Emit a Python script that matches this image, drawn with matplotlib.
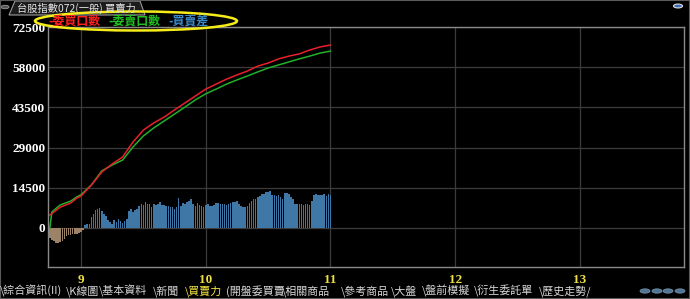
import numpy as np
import matplotlib
matplotlib.use("Agg")
import matplotlib.pyplot as plt
from matplotlib.patches import Ellipse, Polygon, Circle, Rectangle

plt.rcParams['font.family'] = ['Noto Sans CJK TC', 'DejaVu Sans']

# ---- data (minutes after 08:45) ----
bar_min = list(range(136))
bar_diff = [-3600, -4200, -4800, -5300, -5400, -5200, -4600, -3800, -3000, -2700,
            -2500, -2300, -2200, -2000, -1800, -1500, -900, 1200, 1300, 1600,
            3800, 5200, 6400, 7000, 7200, 6000, 5000, 4400, 3000, 2000,
            1600, 2900, 2000, 3200, 2600, 1700, 2600, 3300, 6300, 7000,
            5900, 6400, 6700, 8000, 8500, 8200, 9300, 8600, 8500, 7700,
            8500, 8200, 8800, 9200, 8200, 8400, 8100, 8000, 7700, 7600,
            6800, 7400, 10800, 8100, 9000, 8600, 9400, 9800, 10300, 8700,
            8000, 9000, 8300, 8100, 7600, 8300, 8600, 7800, 8100, 8300,
            8900, 9100, 8500, 8800, 8600, 8200, 8500, 8900, 9400, 9300,
            9700, 8700, 8000, 7400, 7500, 8000, 9000, 9700, 10300, 10600,
            11200, 11600, 12300, 12200, 13100, 12900, 13400, 11800, 12000, 11600,
            11900, 11000, 10600, 12500, 12600, 12200, 11200, 10600, 8700, 8500,
            8600, 8600, 8400, 8700, 8500, 8300, 9700, 11900, 12100, 11800,
            12000, 11900, 12300, 11700, 12200, 11800]

line_min = [0, 1, 5, 10, 13, 15, 20, 25, 30, 35, 40, 45, 50, 55, 60, 65, 70, 75,
            80, 85, 90, 95, 100, 105, 110, 115, 120, 125, 130, 135]
buy_qty = [4700, 5200, 7500, 9000, 10800, 11500, 15500, 20200, 23100, 25600,
           31000, 35300, 37900, 40000, 42600, 45100, 47600, 50100, 51900, 53700,
           55200, 56600, 58400, 59500, 61000, 62000, 62800, 64200, 65300, 66000]
sell_qty = [0, 5800, 8300, 9700, 11200, 12000, 15500, 20600, 22700, 24500,
            29200, 33200, 36100, 38600, 41100, 43600, 46200, 48400, 50100, 51900,
            53400, 54800, 56300, 57700, 58800, 59900, 61000, 62000, 63100, 63800]

yticks = [0, 14500, 29000, 43500, 58000, 72500]
xticks = [9, 10, 11, 12, 13]
legend_labels = ['-委買口數', '-委賣口數', '-買賣差']
tabs = ['\\綜合資訊(II)', '\\K線圖', '\\基本資料', '\\新聞', '\\買賣力', '(開盤委買賣',
        '\\相關商品', '\\參考商品', '\\大盤', '\\盤前模擬', '\\衍生委託單', '\\歷史走勢/']
tab_x = [0, 66, 99, 153, 185, 226, 282, 341, 391, 422, 474, 539]
title = '台股指數072(一般) 買賣力'

W, H = 690, 299


def fx(x):
    return x / W


def fy(y):
    return 1 - y / H


fig = plt.figure(figsize=(W / 100, H / 100), dpi=100)
fig.patch.set_facecolor('black')
ax = fig.add_axes([fx(48), fy(267), (684 - 48) / W, (267 - 27) / H])
ax.set_facecolor('black')

t_bar = 8.75 + np.array(bar_min) / 60.0
diff = np.array(bar_diff)
colors = ['#9c8266' if v < 0 else '#3f77a6' for v in bar_diff]
ax.bar(t_bar, diff, width=0.75 / 60, color=colors, linewidth=0)

t_line = 8.75 + np.array(line_min) / 60.0
ax.plot(t_line, sell_qty, color='#22b02a', lw=1.1)
ax.plot(t_line, buy_qty, color='#e8202a', lw=1.1)

ax.set_xlim(8.7355, 13.8337)
ax.set_ylim(-14070, 72500)
ax.set_yticks(yticks)
ax.set_xticks(xticks)
ax.set_yticklabels([str(v) for v in yticks], color='white', fontweight='bold',
                   fontsize=9.5, family='Liberation Serif')
ax.set_xticklabels([str(v) for v in xticks], color='#f0e040', fontweight='bold',
                   fontsize=9.5, family='Liberation Serif')
ax.tick_params(length=0, pad=2)
ax.tick_params(axis='x', pad=5)
ax.grid(True, color='#3c3c3c', lw=0.9)
ax.set_axisbelow(True)
for s in ax.spines.values():
    s.set_color('#8a8a8a')
    s.set_linewidth(1)

# top tab
fig.patches.append(Polygon([(fx(9), fy(15)), (fx(15), fy(1)), (fx(140), fy(1)),
                            (fx(145), fy(15))], closed=True, transform=fig.transFigure,
                           facecolor='#1c1c1c', edgecolor='#9a9a9a', lw=0.8))
fig.text(fx(17), fy(8), title, color='#e6e6e6', fontsize=7.4, va='center', ha='left')
fig.patches.append(Circle((fx(5), fy(7)), 4 / W, transform=fig.transFigure,
                          facecolor='#555555', edgecolor='#999999', lw=0.6))

# legend + yellow ellipse
leg_colors = ['#ff2020', '#20c020', '#3c8ccc']
for lab, x, c in zip(legend_labels, [48, 108, 168], leg_colors):
    fig.text(fx(x), fy(21), lab, color=c, fontsize=8.6, va='center', ha='left',
             fontweight='bold')
fig.patches.append(Ellipse((fx(136), fy(21)), 202 / W, 19 / H, transform=fig.transFigure,
                           facecolor='none', edgecolor='#f5ec1a', lw=1.8))

# magnifier icon
fig.patches.append(Circle((fx(678), fy(6)), 4.5 / W, transform=fig.transFigure,
                          facecolor='#3a6ab0', edgecolor='#e0e0e0', lw=0.8))

# bottom tabs
for lab, x in zip(tabs, tab_x):
    col = '#f5e642' if '買賣力' in lab else '#d8d8d8'
    fig.text(fx(x), fy(291), lab, color=col, fontsize=7.9, va='center', ha='left')

# nav buttons
for x in [645, 657, 668, 680]:
    fig.patches.append(Circle((fx(x), fy(291)), 5 / W, transform=fig.transFigure,
                              facecolor='#4f7494', edgecolor='#7a9ab5', lw=0.5))

# outer frame
fig.patches.append(Rectangle((0, 0), 1, 1, transform=fig.transFigure, fill=False,
                             edgecolor='#5a5a5a', lw=1.5))

fig.savefig('out.png', dpi=100, facecolor='black')
